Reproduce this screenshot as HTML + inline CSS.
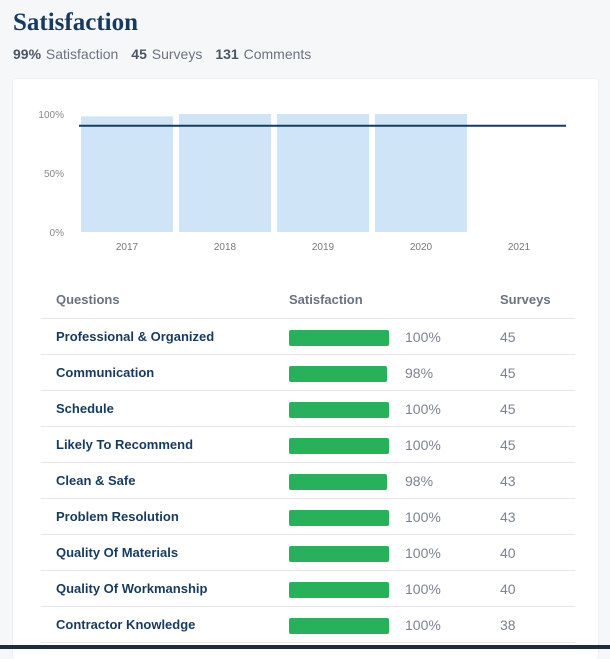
<!DOCTYPE html>
<html><head><meta charset="utf-8"><style>
body{margin:0;width:610px;height:649px;background:#f6f7f9;font-family:"Liberation Sans",Arial,sans-serif;position:relative;overflow:hidden}
h1{position:absolute;left:13px;top:9px;margin:0;font-family:"Liberation Serif",serif;font-weight:bold;font-size:25px;color:#173a5e}
.stats{position:absolute;left:13px;top:46px;font-size:14px;color:#6b7280}
.stats b{color:#4b5563;margin-right:1px}
.stats span{margin-right:13px}
.card{position:absolute;left:13px;top:79px;width:585px;height:580px;background:#fff;border-radius:3px;box-shadow:0 0 2px rgba(0,0,0,.08)}
table{position:absolute;left:41px;top:281px;width:534px;border-collapse:collapse}
th{font-size:13px;color:#6b7280;text-align:left;font-weight:bold;height:37px;padding:0;border-bottom:1px solid #e5e7eb}
td{height:35px;padding:0;border-bottom:1px solid #e5e7eb;font-size:14px;color:#7b8290}
td.q{font-weight:bold;color:#173a5e;font-size:13px;padding-left:15px}
td.s{position:relative}
.bar{position:absolute;left:1px;top:11px;height:16px;background:#28b05a;border-radius:2px}
.pct{position:absolute;left:117px;top:10px}
td.n{padding-left:1px}
.foot{position:absolute;left:0;top:645px;width:610px;height:4px;background:#1e2d3d}
</style></head><body>
<h1>Satisfaction</h1>
<div class="stats"><span><b>99%</b> Satisfaction</span><span><b>45</b> Surveys</span><span><b>131</b> Comments</span></div>
<div class="card"></div>
<svg id="chart" width="610" height="260" style="position:absolute;left:0;top:0"></svg>
<table>
<thead><tr><th style="padding-left:15px;width:232px">Questions</th><th style="width:210px;padding-left:1px">Satisfaction</th><th style="padding-left:1px">Surveys</th></tr></thead>
<tbody id="tb"></tbody></table>
<div class="foot"></div>
<script>
const years=["2017","2018","2019","2020","2021"];
const yearValues=[98,100,100,100,null];
const avgLine=90;
const yTicks=[0,50,100];
const questions=["Professional & Organized","Communication","Schedule","Likely To Recommend","Clean & Safe","Problem Resolution","Quality Of Materials","Quality Of Workmanship","Contractor Knowledge"];
const qSatisfaction=[100,98,100,100,98,100,100,100,100];
const qSurveys=[45,45,45,45,43,43,40,40,38];
const NS="http://www.w3.org/2000/svg";
const svg=document.getElementById('chart');
const y0=232,y100=114,x0=79,slot=98;
const yS=v=>y0-(y0-y100)*v/100;
const xS=i=>x0+i*slot;
function mk(t,a){const e=document.createElementNS(NS,t);for(const k in a)e.setAttribute(k,a[k]);svg.appendChild(e);return e;}
yTicks.forEach(t=>{const e=mk('text',{x:64,y:yS(t)+4,'text-anchor':'end','font-size':10,fill:'#888'});e.textContent=t+'%';

});
years.forEach((yr,i)=>{
 if(yearValues[i]!=null){const r=mk('rect',{x:xS(i)+2,y:yS(yearValues[i]),width:slot-6,height:y0-yS(yearValues[i]),fill:'#cfe4f7'});
 
 }
 const t=mk('text',{x:xS(i)+slot/2-1,y:250,'text-anchor':'middle','font-size':10,fill:'#777'});t.textContent=yr;
 
 
});
const l=mk('line',{x1:x0,x2:566,y1:yS(avgLine),y2:yS(avgLine),stroke:'#173a5e','stroke-width':2});


const tb=document.getElementById('tb');
questions.forEach((q,i)=>{
 const tr=document.createElement('tr');
 
 
 tr.innerHTML='<td class="q">'+q.replace('&','&amp;')+'</td><td class="s"><span class="bar" style="width:'+qSatisfaction[i]+'px"></span><span class="pct">'+qSatisfaction[i]+'%</span></td><td class="n">'+qSurveys[i]+'</td>';
 tb.appendChild(tr);
});
</script>
</body></html>
